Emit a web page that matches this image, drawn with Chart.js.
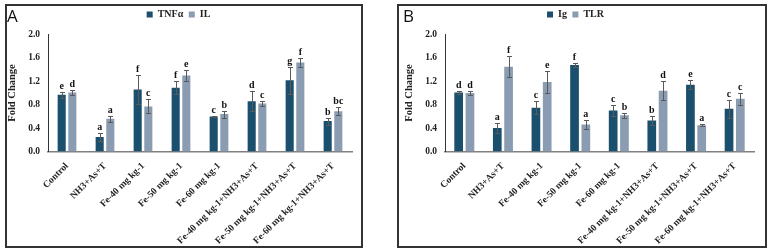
<!DOCTYPE html>
<html><head><meta charset="utf-8">
<script src="https://cdn.jsdelivr.net/npm/chart.js@4.4.0/dist/chart.umd.min.js"></script>
<style>
html,body{margin:0;padding:0;background:#fff;width:767px;height:249px;overflow:hidden;}
canvas{position:absolute;}
.frame{position:absolute;border:2px solid #333;box-sizing:border-box;pointer-events:none;}
.tag{position:absolute;font-family:'Open Sans','Liberation Sans',sans-serif;font-size:17px;line-height:17px;color:#111;}
</style></head><body>
<canvas id="cA" width="358" height="243" style="left:5px;top:4px"></canvas>
<canvas id="cB" width="369" height="243" style="left:397px;top:4px"></canvas>
<div class="frame" style="left:5px;top:4px;width:358px;height:244px"></div>
<div class="frame" style="left:397px;top:4px;width:370px;height:244px"></div>
<div class="tag" style="left:7px;top:7px">A</div>
<div class="tag" style="left:403px;top:7px">B</div>
<script>
const categories = ['Control','NH3+As+T','Fe-40 mg kg-1','Fe-50 mg kg-1','Fe-60 mg kg-1','Fe-40 mg kg-1+NH3+As+T','Fe-50 mg kg-1+NH3+As+T','Fe-60 mg kg-1+NH3+As+T'];
const yTickValues = [0, 0.4, 0.8, 1.2, 1.6, 2.0];

const tnfValues  = [0.97, 0.25, 1.06, 1.09, 0.60, 0.86, 1.22, 0.52];
const tnfErrors  = [0.05, 0.07, 0.25, 0.11, 0.01, 0.17, 0.23, 0.06];
const tnfLetters = ['e','a','f','f','c','d','g','b'];
const ilValues   = [1.01, 0.56, 0.77, 1.30, 0.64, 0.82, 1.52, 0.69];
const ilErrors   = [0.04, 0.05, 0.12, 0.10, 0.06, 0.05, 0.08, 0.07];
const ilLetters  = ['d','a','c','e','b','c','f','bc'];

const igValues   = [1.01, 0.40, 0.75, 1.48, 0.70, 0.53, 1.14, 0.73];
const igErrors   = [0.03, 0.085, 0.11, 0.03, 0.09, 0.07, 0.08, 0.15];
const igLetters  = ['d','a','c','f','c','b','e','c'];
const tlrValues  = [1.00, 1.45, 1.19, 0.46, 0.62, 1.04, 0.45, 0.90];
const tlrErrors  = [0.03, 0.18, 0.19, 0.08, 0.04, 0.16, 0.02, 0.10];
const tlrLetters = ['d','f','e','a','b','d','a','c'];

const DARK = '#1a4f6e', LIGHT = '#8a9cb2';
const SERIF = '"Liberation Serif","Times New Roman",serif';

const annotate = {
  id: 'annotate',
  afterDatasetsDraw(chart) {
    const ctx = chart.ctx, y = chart.scales.y;
    chart.data.datasets.forEach((ds, i) => {
      const meta = chart.getDatasetMeta(i);
      meta.data.forEach((bar, j) => {
        const v = ds.data[j], e = ds.errors[j];
        const top = Math.round(y.getPixelForValue(v + e)) + 0.5;
        const bot = Math.round(y.getPixelForValue(v - e)) + 0.5;
        const x = Math.round(bar.x) + 0.5;
        ctx.save();
        ctx.strokeStyle = '#5a5a5a'; ctx.lineWidth = 1;
        ctx.beginPath();
        ctx.moveTo(x, top); ctx.lineTo(x, bot);
        ctx.moveTo(x - 2.5, top); ctx.lineTo(x + 2.5, top);
        ctx.moveTo(x - 2.5, bot); ctx.lineTo(x + 2.5, bot);
        ctx.stroke();
        ctx.fillStyle = '#111';
        ctx.font = 'bold 10px ' + SERIF;
        ctx.textAlign = 'center'; ctx.textBaseline = 'alphabetic';
        ctx.fillText(ds.letters[j], bar.x, top - 4);
        ctx.restore();
      });
    });
  }
};

const legendSpace = {
  id: 'legendSpace',
  beforeLayout(chart) {
    const lg = chart.legend;
    if (lg && !lg._spaceWrapped) {
      const f = lg.fit.bind(lg);
      lg.fit = function () { f(); this.height += 5; };
      lg._spaceWrapped = true;
    }
  }
};

function makePanel(id, names, sA, sB, yw, titlePad, rightPad, catPct, barPct) {
  return new Chart(document.getElementById(id), {
    type: 'bar',
    data: {
      labels: categories,
      datasets: [
        {label: names[0], data: sA[0], errors: sA[1], letters: sA[2], backgroundColor: DARK, borderWidth: 0, categoryPercentage: catPct, barPercentage: barPct},
        {label: names[1], data: sB[0], errors: sB[1], letters: sB[2], backgroundColor: LIGHT, borderWidth: 0, categoryPercentage: catPct, barPercentage: barPct}
      ]
    },
    options: {
      responsive: false, animation: false, devicePixelRatio: 1,
      layout: {padding: {top: 0, right: rightPad, bottom: 0, left: 0}},
      plugins: {
        legend: {
          position: 'top', align: 'center',
          labels: {boxWidth: 6, boxHeight: 6, padding: 5.5, color: '#222', font: {family: SERIF, weight: 'bold', size: 10}}
        },
        tooltip: {enabled: false}
      },
      scales: {
        x: {
          grid: {display: false, drawTicks: false},
          border: {display: true, color: '#808080', width: 1.5},
          ticks: {autoSkip: false, minRotation: 45, maxRotation: 45, padding: 9, color: '#222', font: {family: SERIF, weight: 'bold', size: 9.5}},
          afterFit(s) { s.height = 95.5; }
        },
        y: {
          min: 0, max: 2,
          grid: {display: false, drawTicks: false},
          border: {display: true, color: '#333', width: 1},
          ticks: {padding: 8, color: '#222', font: {family: SERIF, weight: 'bold', size: 9.5}, callback: v => Number(v).toFixed(1)},
          afterBuildTicks(s) { s.ticks = yTickValues.map(v => ({value: v})); },
          title: {display: true, text: 'Fold Change', color: '#222', padding: {top: titlePad, bottom: 0}, font: {family: SERIF, weight: 'bold', size: 10.5}},
          afterFit(s) { s.width = yw; }
        }
      }
    },
    plugins: [annotate, legendSpace]
  });
}

makePanel('cA', ['TNFα', 'IL'], [tnfValues, tnfErrors, tnfLetters], [ilValues, ilErrors, ilLetters], 43, 0.5, 11, 0.56, 0.76);
makePanel('cB', ['Ig', 'TLR'], [igValues, igErrors, igLetters], [tlrValues, tlrErrors, tlrLetters], 48, 6, 12, 0.585, 0.77);
</script>
</body></html>
